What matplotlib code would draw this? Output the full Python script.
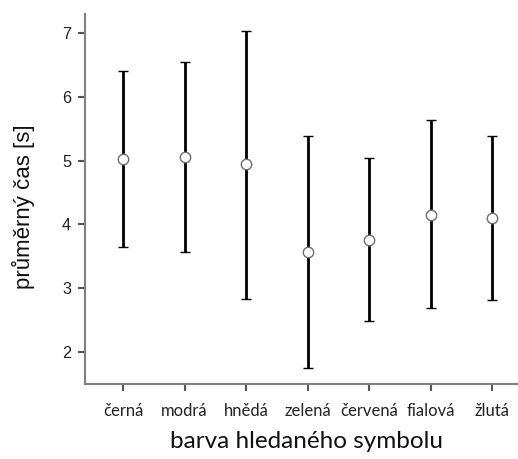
import matplotlib
matplotlib.use("Agg")
import matplotlib.pyplot as plt
import numpy as np

categories = ["černá", "modrá", "hnědá", "zelená", "červená", "fialová", "žlutá"]
means = [5.02, 5.06, 4.94, 3.57, 3.76, 4.15, 4.10]
upper = [6.40, 6.54, 7.04, 5.39, 5.04, 5.64, 5.38]
lower = [3.65, 3.57, 2.83, 1.75, 2.48, 2.68, 2.81]
yticks = [2, 3, 4, 5, 6, 7]

W, H = 518, 459
left_px, right_px, top_px, bot_px = 85, 518, 14, 383.7
fig = plt.figure(figsize=(W/100, H/100), dpi=100)
ax = fig.add_axes([left_px/W, 1 - bot_px/H, (right_px - left_px)/W, (bot_px - top_px)/H])

x = np.arange(len(categories))
m = np.array(means)
yerr = np.vstack([m - np.array(lower), np.array(upper) - m])
ax.errorbar(x, m, yerr=yerr, fmt="o", color="black", ecolor="black",
            elinewidth=2.0, capsize=3.5, capthick=2.0,
            markersize=7.5, markerfacecolor="white", markeredgecolor="#6e6e6e",
            markeredgewidth=1.0, zorder=3)

ax.set_xlim(-0.62, 6.42)
ax.set_ylim(1.5, 7.3)
ax.set_yticks(yticks)
ax.set_yticklabels([str(v) for v in yticks], fontsize=11.7, family="Liberation Sans", color="#222222")
ax.set_xticks(x)
ax.set_xticklabels(categories, fontsize=12, family=["Lato", "DejaVu Sans"], color="#222222")

for s in ["top", "right"]:
    ax.spines[s].set_visible(False)
for s in ["left", "bottom"]:
    ax.spines[s].set_color("#808080")
    ax.spines[s].set_linewidth(1.5)
ax.tick_params(axis="y", direction="out", length=5, width=1.5, color="#555555", pad=5)
ax.tick_params(axis="x", direction="out", length=5, width=1.5, color="#555555", pad=9)

ax.set_ylabel("průměrný čas [s]", fontsize=16, family="Liberation Sans", color="#111111")
ax.yaxis.set_label_coords(-(85 - 35)/(right_px - left_px), (bot_px - 207)/(bot_px - top_px))
ax.set_xlabel("barva hledaného symbolu", fontsize=17.5, family=["Lato", "DejaVu Sans"], color="#111111")
ax.xaxis.set_label_coords((307 - left_px)/(right_px - left_px), -(431 - bot_px)/(bot_px - top_px))

fig.savefig("out.png", dpi=100)
